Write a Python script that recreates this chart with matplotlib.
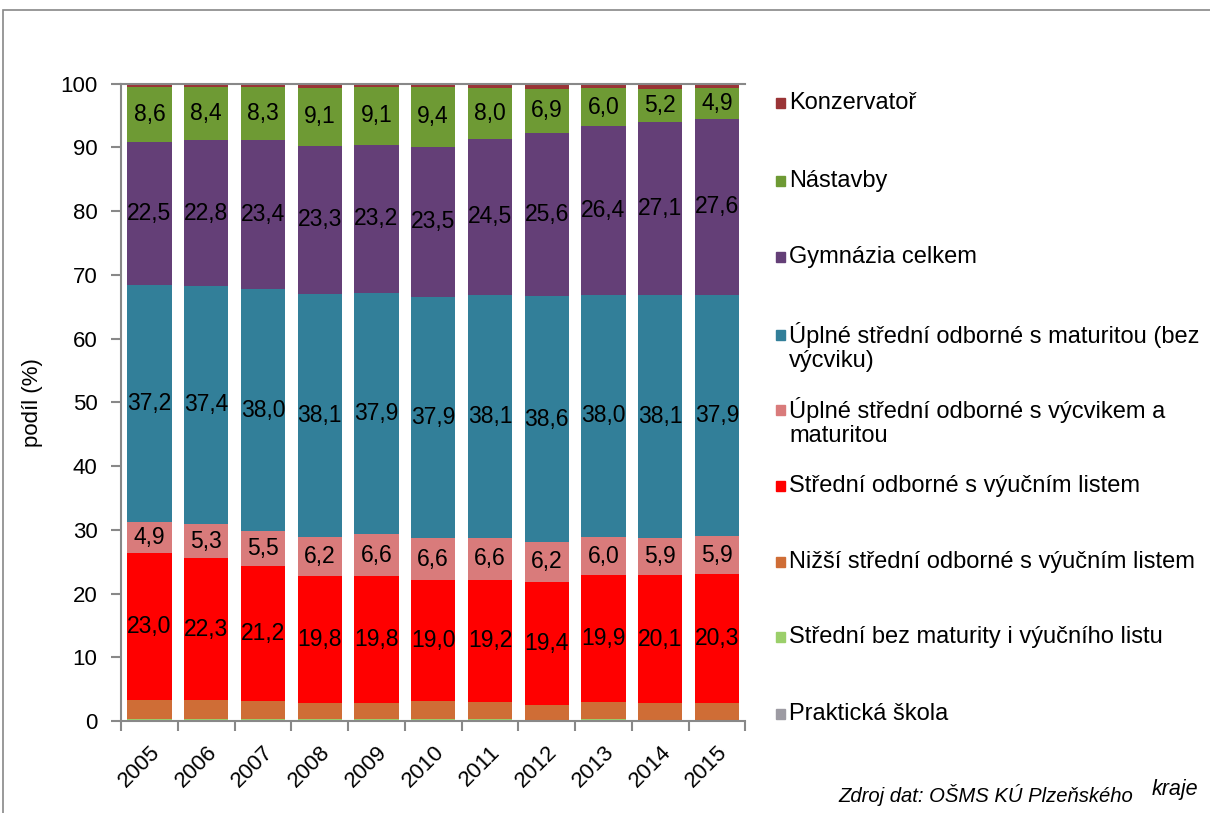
import matplotlib.pyplot as plt
from matplotlib.patches import Rectangle
from matplotlib.transforms import ScaledTranslation
import numpy as np

plt.rcParams['font.family'] = ['Liberation Sans', 'DejaVu Sans']

years = ['2005', '2006', '2007', '2008', '2009', '2010', '2011', '2012', '2013', '2014', '2015']

# shares (%) bottom -> top
prakticka = [0.1, 0.1, 0.1, 0.1, 0.1, 0.1, 0.1, 0.1, 0.1, 0.1, 0.1]
bez_maturity = [0.2, 0.2, 0.2, 0.2, 0.2, 0.2, 0.2, 0.1, 0.2, 0.1, 0.1]
nizsi = [3.0, 3.0, 2.8, 2.6, 2.6, 2.8, 2.7, 2.3, 2.7, 2.6, 2.6]
stredni_vl = [23.0, 22.3, 21.2, 19.8, 19.8, 19.0, 19.2, 19.4, 19.9, 20.1, 20.3]
uplne_vycvik = [4.9, 5.3, 5.5, 6.2, 6.6, 6.6, 6.6, 6.2, 6.0, 5.9, 5.9]
uplne_mat = [37.2, 37.4, 38.0, 38.1, 37.9, 37.9, 38.1, 38.6, 38.0, 38.1, 37.9]
gymnazia = [22.5, 22.8, 23.4, 23.3, 23.2, 23.5, 24.5, 25.6, 26.4, 27.1, 27.6]
nastavby = [8.6, 8.4, 8.3, 9.1, 9.1, 9.4, 8.0, 6.9, 6.0, 5.2, 4.9]
konzervator = [0.5, 0.5, 0.5, 0.6, 0.5, 0.5, 0.6, 0.8, 0.7, 0.8, 0.6]

series = [
    (['Praktická škola'], prakticka, '#9d9ba3', False),
    (['Střední bez maturity i výučního listu'], bez_maturity, '#9bcf6a', False),
    (['Nižší střední odborné s výučním listem'], nizsi, '#cf6d36', False),
    (['Střední odborné s výučním listem'], stredni_vl, '#ff0000', True),
    (['Úplné střední odborné s výcvikem a', 'maturitou'], uplne_vycvik, '#d97b7b', True),
    (['Úplné střední odborné s maturitou (bez', 'výcviku)'], uplne_mat, '#327f99', True),
    (['Gymnázia celkem'], gymnazia, '#643f77', True),
    (['Nástavby'], nastavby, '#6e9a34', True),
    (['Konzervatoř'], konzervator, '#9a3436', False),
]

FS = 16

fig = plt.figure(figsize=(12.1, 8.13), dpi=100)
ax = fig.add_axes([0.1, 0.113, 0.516, 0.784])

x = np.arange(len(years))
bottom = np.zeros(len(years))
for name, vals, col, lab in series:
    vals = np.array(vals)
    ax.bar(x, vals, 0.78, bottom=bottom, color=col, edgecolor='none')
    if lab:
        for xi, b, v in zip(x, bottom, vals):
            ax.text(xi, b + v / 2, f'{v:.1f}'.replace('.', ','), ha='center', va='center',
                    fontsize=16.5, color='black')
    bottom += vals

ax.set_xlim(-0.5, len(years) - 0.5)
ax.set_ylim(0, 100)
ax.set_yticks(range(0, 101, 10))
ax.tick_params(axis='y', labelsize=FS, length=7, width=1.5, color='#888888', pad=10)
ax.set_xticks(x)
ax.set_xticklabels(years, rotation=45, ha='right', va='top', rotation_mode='anchor', fontsize=FS)
for t in ax.get_xticklabels():
    t.set_transform(t.get_transform() + ScaledTranslation(4 / 100, 0, fig.dpi_scale_trans))
ax.tick_params(axis='x', which='major', length=0, pad=15)
ax.set_xticks(np.arange(-0.5, len(years)), minor=True)
ax.tick_params(axis='x', which='minor', length=7, width=1.5, color='#888888')
ax.set_ylabel('podíl (%)', fontsize=FS, labelpad=12)
for s in ['left', 'bottom', 'top']:
    ax.spines[s].set_color('#888888')
    ax.spines[s].set_linewidth(1.5)
ax.spines['right'].set_visible(False)

# legend on the right, top -> bottom
leg_y = [103, 181, 257, 335, 410, 486, 562, 637, 714]
for (lines, vals, col, lab), yy in zip(series[::-1], leg_y):
    yf = 1 - yy / 813
    fig.patches.append(Rectangle((776 / 1210, yf - 5 / 813), 9 / 1210, 10 / 813,
                                 transform=fig.transFigure, color=col))
    for i, line in enumerate(lines):
        fig.text(789 / 1210, 1 - (yy + 26 * i) / 813, line, fontsize=17, va='center', ha='left')

fig.text(838 / 1210, 1 - 795 / 813, 'Zdroj dat: OŠMS KÚ Plzeňského', fontsize=14.6,
         style='italic', va='center', ha='left')
fig.text(1152 / 1210, 1 - 789 / 813, 'kraje', fontsize=15.5, style='italic', va='center', ha='left')

# outer frame
fig.patches.append(Rectangle((3 / 1210, -0.05), 1.1, 1 - 10 / 813 + 0.05, transform=fig.transFigure,
                             fill=False, edgecolor='#888888', linewidth=1.2))

fig.savefig('out.png', dpi=100)
